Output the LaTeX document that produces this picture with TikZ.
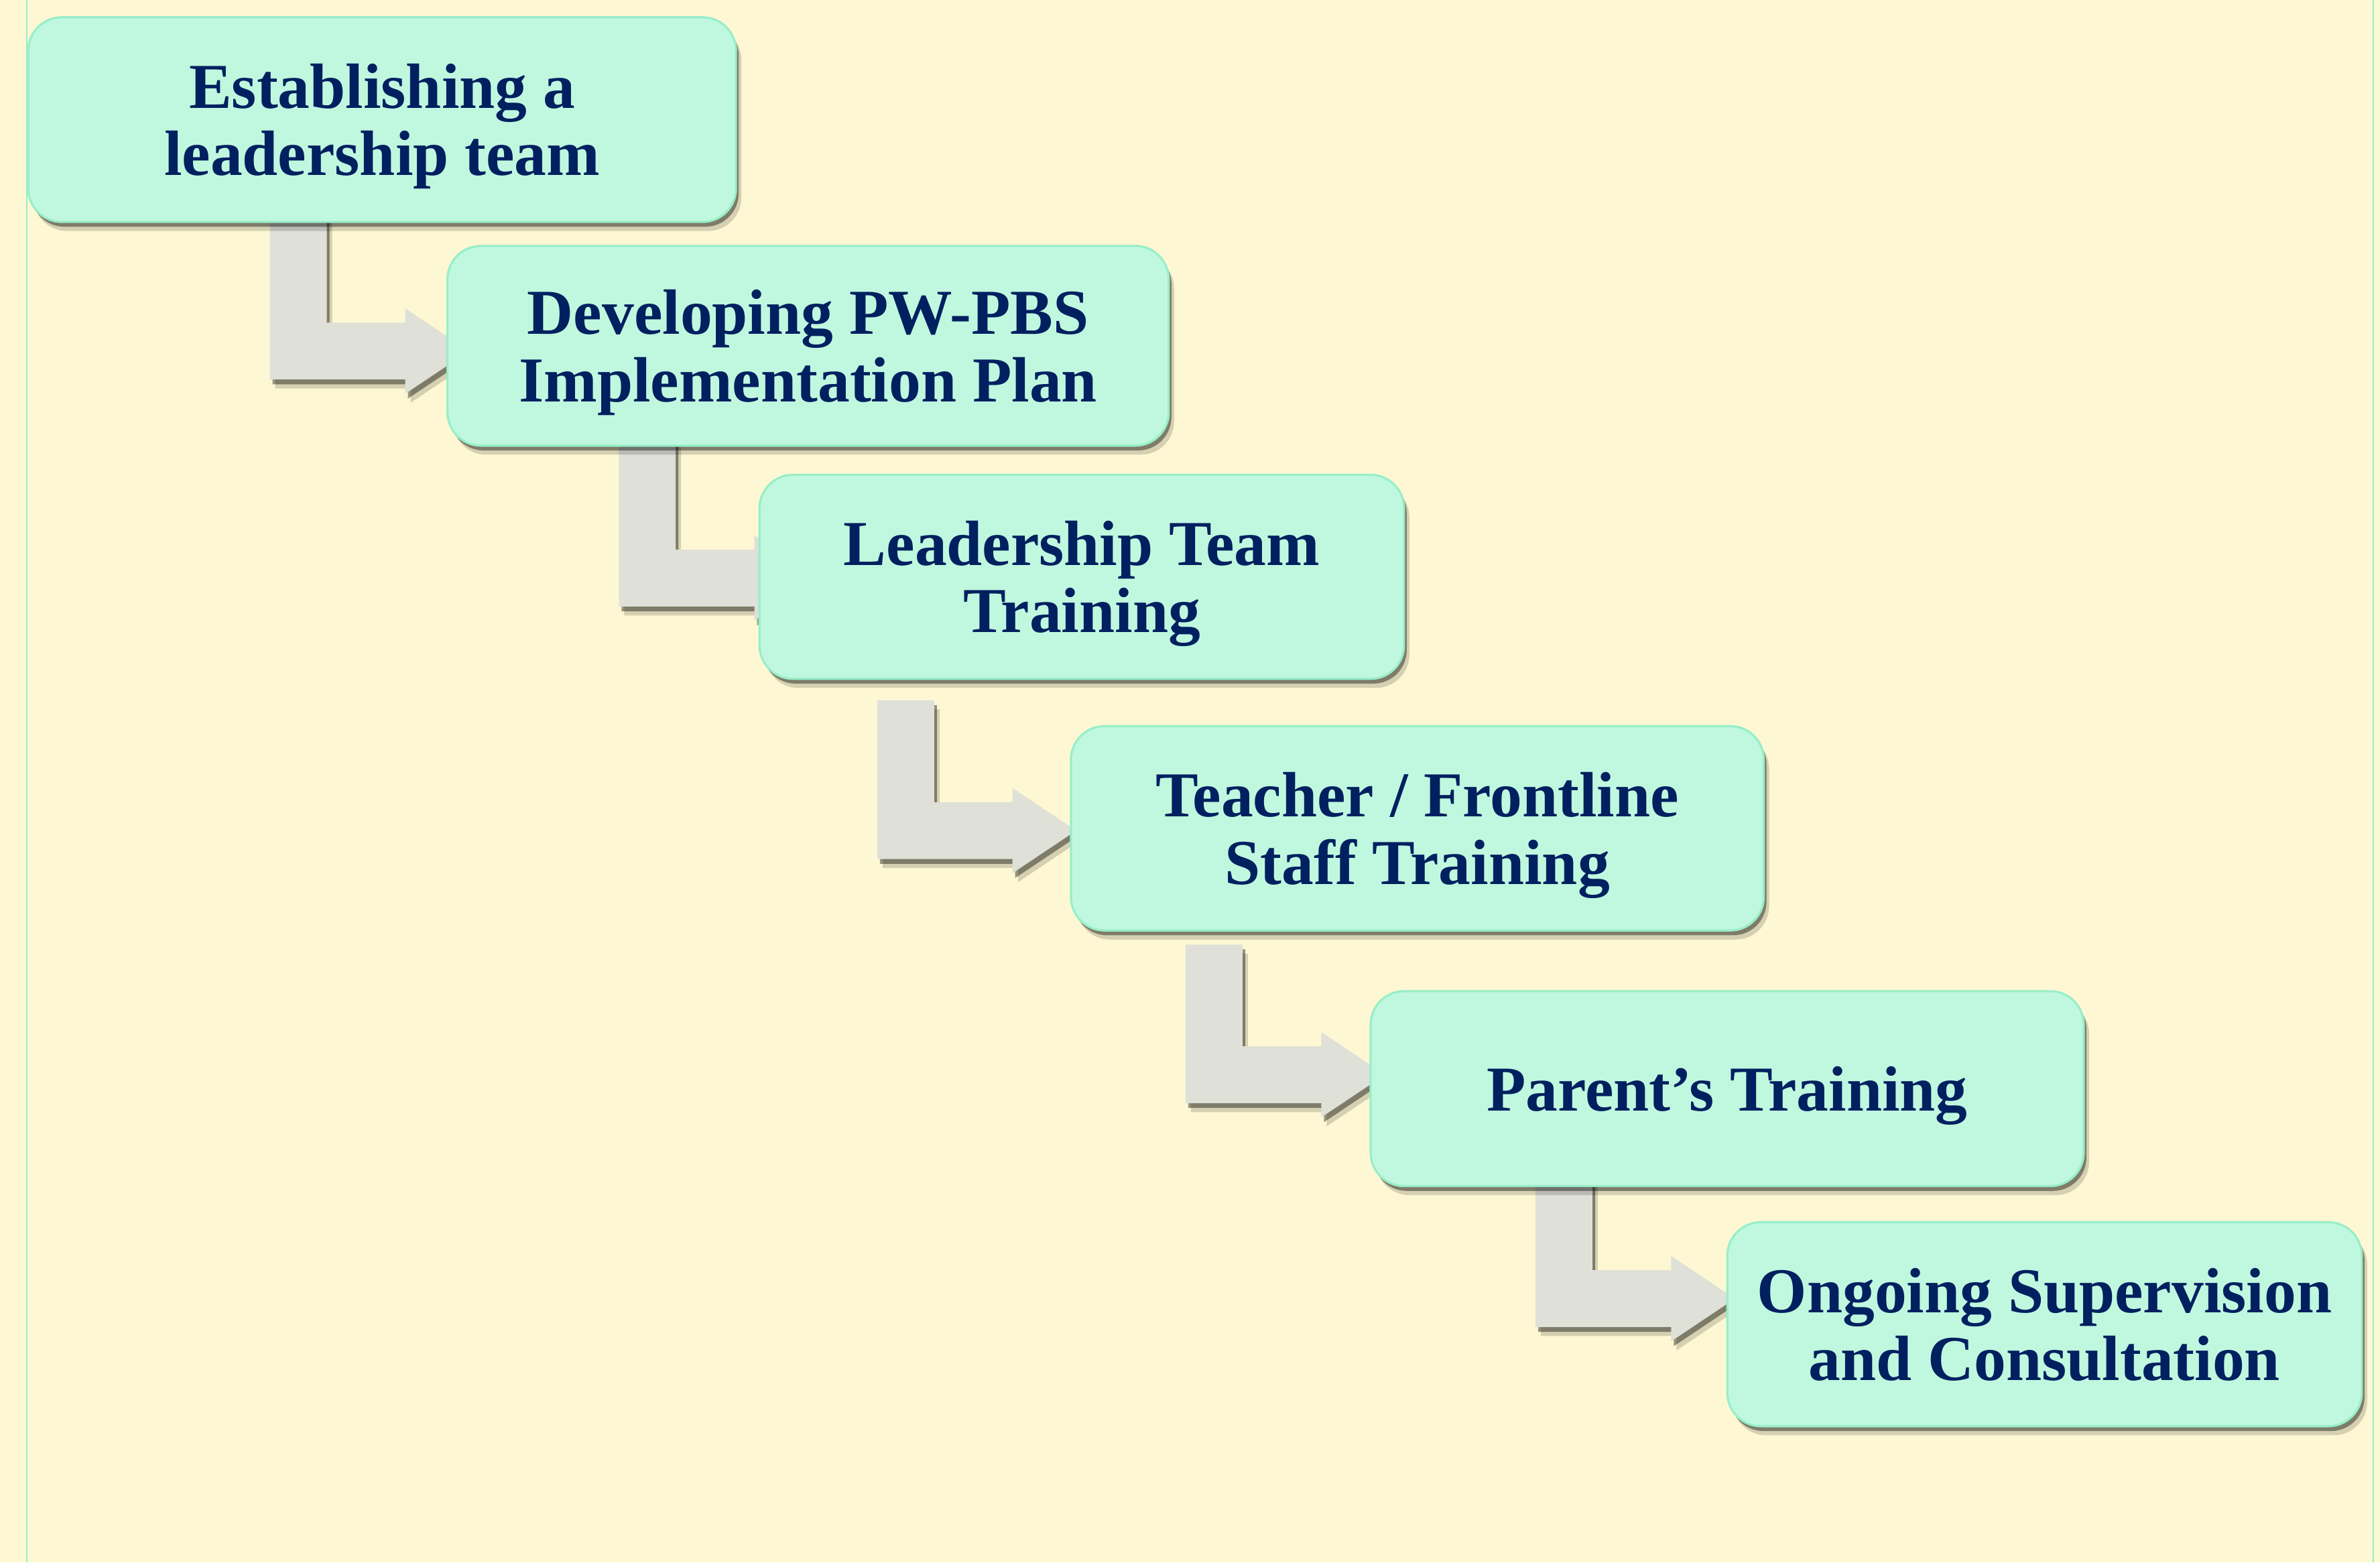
\documentclass[tikz,border=0pt]{standalone}
\usepackage{fontspec}
\setmainfont{Liberation Serif}
\usetikzlibrary{calc, shadows}

\definecolor{pagecream}{HTML}{FDF8D3}
\definecolor{boxmint}{HTML}{C0F8DF}
\definecolor{boxedge}{HTML}{98EEC8}
\definecolor{textnavy}{HTML}{002060}
\definecolor{arrowgray}{HTML}{DFE0D8}

\begin{document}
\begin{tikzpicture}[
		soft shadow/.style={
			drop shadow={shadow xshift=0.5pt, shadow yshift=-0.9pt, opacity=0.4, fill=black},
			drop shadow={shadow xshift=1pt, shadow yshift=-1.7pt, opacity=0.16, fill=black}},
		stagebox/.style={draw=boxedge, line width=0.4pt, fill=boxmint, rounded corners=0.22cm,
			text=textnavy, font=\fontsize{12}{12.6}\selectfont\bfseries, align=center,
			inner sep=0pt, text depth=0pt, soft shadow},
		bent arrow/.style={fill=arrowgray, soft shadow}
		]
		
		% Page
		\useasboundingbox (0,0) rectangle (15.68,-10.293);
		\fill[pagecream] (0,0) rectangle (15.68,-10.293);
		\draw[boxedge, line width=0.3pt] (0.177,0) -- (0.177,-10.293);
		\draw[boxedge, line width=0.3pt] (15.636,0) -- (15.636,-10.293);
		
		% Arrow ends
		\coordinate (a1s) at (1.778, -1.40);
		\coordinate (a1t) at (3.09, -2.313);
		\coordinate (a2s) at (4.077, -2.88);
		\coordinate (a2t) at (5.39, -3.8085);
		\coordinate (a3s) at (5.78, -4.614);
		\coordinate (a3t) at (7.09, -5.472);
		\coordinate (a4s) at (7.811, -6.223);
		\coordinate (a4t) at (9.125, -7.08);
		\coordinate (a5s) at (10.116, -7.75);
		\coordinate (a5t) at (11.43, -8.5555);
		
		% Bent arrows
		\foreach \from/\to in {a1s/a1t, a2s/a2t, a3s/a3t, a4s/a4t, a5s/a5t}
		\fill[bent arrow] let \p1=(\from), \p2=(\to) in
			(\x1,\y1) -- (\x1+3.75mm,\y1) -- (\x1+3.75mm,\y2+1.87mm) -- (\x2-4.2mm,\y2+1.87mm)
			-- (\x2-4.2mm,\y2+2.81mm) -- (\x2,\y2) -- (\x2-4.2mm,\y2-2.81mm)
			-- (\x2-4.2mm,\y2-1.87mm) -- (\x1,\y2-1.87mm) -- cycle;
		
		% Stages
		\node[stagebox, minimum width=4.663cm, minimum height=1.348cm] (establish) at (2.5175,-0.788) {Establishing a\\leadership team};
		\node[stagebox, minimum width=4.752cm, minimum height=1.316cm] (plan) at (5.324,-2.278) {Developing PW-PBS\\Implementation Plan};
		\node[stagebox, minimum width=4.246cm, minimum height=1.344cm] (leadtrain) at (7.127,-3.80) {Leadership Team\\Training};
		\node[stagebox, minimum width=4.564cm, minimum height=1.346cm] (stafftrain) at (9.338,-5.457) {Teacher / Frontline\\Staff Training};
		\node[stagebox, minimum width=4.698cm, minimum height=1.284cm] (parenttrain) at (11.379,-7.172) {Parent’s Training};
		\node[stagebox, minimum width=4.18cm, minimum height=1.344cm] (supervise) at (13.47,-8.724) {Ongoing Supervision\\and Consultation};
		
	\end{tikzpicture}
\end{document}
